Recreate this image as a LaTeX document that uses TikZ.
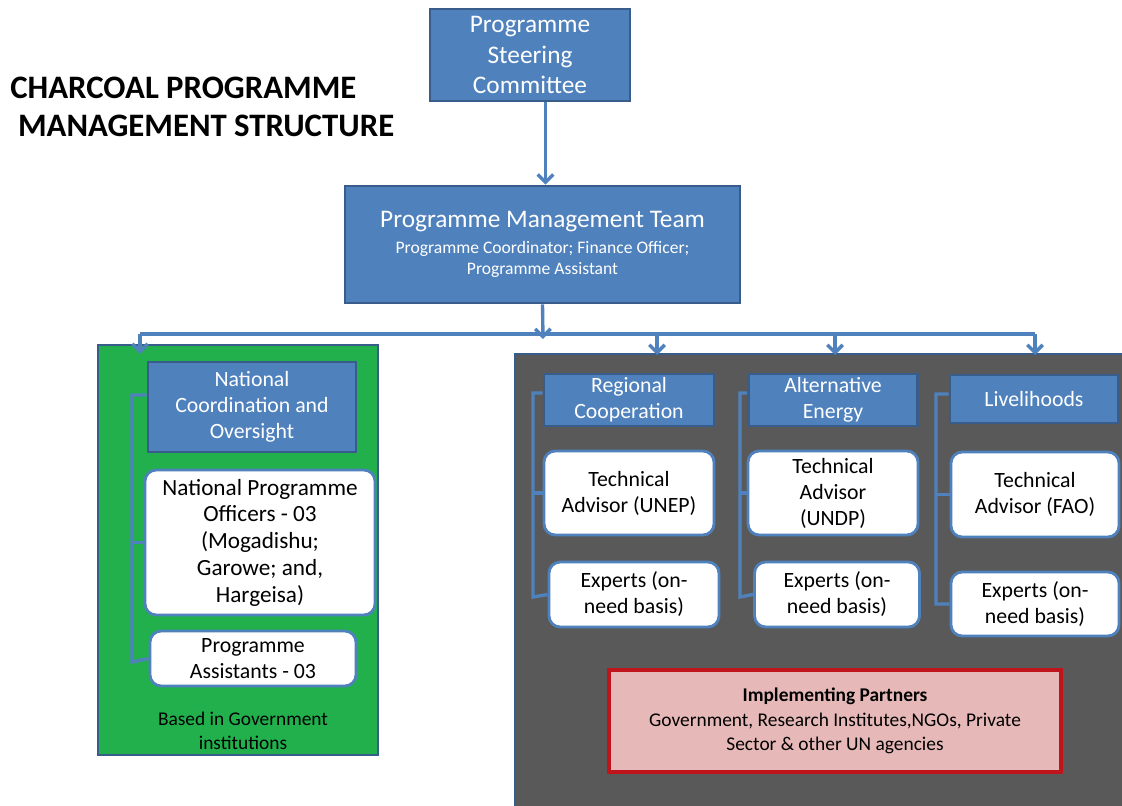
\documentclass[tikz,border=0pt]{standalone}
\usepackage{fontspec}
\setmainfont{Carlito}
\usepackage{tikz}
\usetikzlibrary{
    positioning,   % Relative positioning
    arrows.meta    % Modern arrow tips
}
\definecolor{boxblue}{HTML}{4F81BD}
\definecolor{edgeblue}{HTML}{385D8A}
\definecolor{govgreen}{RGB}{34,176,76}
\definecolor{paneldark}{HTML}{595959}
\definecolor{partnerpink}{HTML}{E6B9B8}
\definecolor{partnerred}{HTML}{C0141C}

\begin{document}
\begin{tikzpicture}[x=0.025cm, y=-0.025cm,
    headbox/.style={draw=edgeblue, line width=2pt, fill=boxblue, text=white,
        align=center, inner sep=0pt},
    staffbox/.style={draw=boxblue, line width=2pt, fill=white, text=black,
        rounded corners=8pt, align=center, inner sep=0pt},
    panel/.style={draw=edgeblue, line width=2pt},
    link/.style={draw=boxblue, line width=2.4pt},
    flow/.style={link, -{Straight Barb[length=5.5pt,width=11pt]}},
    big/.style={font=\fontsize{18}{22}\selectfont},
    mid/.style={font=\fontsize{15.5}{18.5}\selectfont},
    small/.style={font=\fontsize{13.8}{17.5}\selectfont}
]
    \clip (0,0) rectangle (1122,806);
    \fill[white] (0,0) rectangle (1122,806);

    % Title
    \node[anchor=north west, align=left, inner sep=0pt,
        font=\fontsize{23.3}{27}\bfseries\selectfont] (title) at (10,77)
        {CHARCOAL PROGRAMME\\\hspace*{5.5pt}MANAGEMENT STRUCTURE};

    % Top of the structure
    \node[headbox, big, minimum width=5cm, minimum height=2.3cm] (psc) at (530,55)
        {Programme\\Steering\\Committee};
    \node[headbox, font=\fontsize{12.5}{15}\selectfont, minimum width=9.875cm,
        minimum height=2.925cm] (pmt) at (542.5,244.5)
        {\fontsize{18}{24}\selectfont Programme Management Team\\[3pt]
         Programme Coordinator; Finance Officer;\\
         Programme Assistant};
    \draw[flow] ([xshift=0.075cm]pmt.north |- psc.south) -- ([xshift=0.075cm]pmt.north);

    % Panels
    \draw[panel, fill=govgreen] (98,345) rectangle (378,755);
    \draw[panel, fill=paneldark] (515,354) rectangle (1140,830);

    % Distribution line
    \coordinate (busL) at (140,334);
    \coordinate (busR) at (1035,334);
    \draw[flow] (pmt.south) -- (543,339);
    \draw[link] (busL) -- (busR);
    \draw[flow] (busL) -- (140,354);
    \draw[flow] (657,334) -- (657,355);
    \draw[flow] (835,334) -- (835,355);
    \draw[flow] (busR) -- (1035,355);

    % National branch
    \node[headbox, mid, minimum width=5.2cm, minimum height=2.25cm] (nco) at (252,407)
        {National\\Coordination and\\Oversight};
    \node[staffbox, font=\fontsize{16.5}{19}\selectfont, minimum width=5.75cm,
        minimum height=3.625cm] (npo) at (260,542.5)
        {National Programme\\Officers - 03\\(Mogadishu;\\Garowe; and,\\Hargeisa)};
    \node[staffbox, mid, minimum width=5.15cm, minimum height=1.375cm] (pa) at (253,658.5)
        {Programme\\Assistants - 03};
    \node[small, align=center] (gov) at (243,731) {Based in Government\\institutions};
    \draw[link] ([yshift=0.3cm]nco.west) -- (132,395) -- (132,662) -- (pa.west);
    \draw[link] (npo.west) -- (132,542.5);

    % Regional cooperation
    \node[headbox, mid, minimum width=4.25cm, minimum height=1.3cm] (reg) at (629,400)
        {Regional\\Cooperation};
    \node[staffbox, mid, minimum width=4.25cm, minimum height=2.1cm] (regta) at (629,493)
        {Technical\\Advisor (UNEP)};
    \node[staffbox, mid, minimum width=4.25cm, minimum height=1.625cm] (regex) at (634,594.5)
        {Experts (on-\\need basis)};
    \draw[link] ([yshift=0.175cm]reg.west) -- (533,393) -- (533,597) -- (regex.west);
    \draw[link] (regta.west) -- (533,493);

    % Alternative energy
    \node[headbox, mid, minimum width=4.225cm, minimum height=1.3cm] (alt) at (833,400)
        {Alternative\\Energy};
    \node[staffbox, mid, minimum width=4.25cm, minimum height=2.1cm] (altta) at (833,493)
        {Technical\\Advisor\\(UNDP)};
    \node[staffbox, mid, minimum width=4.125cm, minimum height=1.625cm] (altex) at (837,594.5)
        {Experts (on-\\need basis)};
    \draw[link] ([yshift=0.175cm]alt.west) -- (740,393) -- (740,597) -- (altex.west);
    \draw[link] (altta.west) -- (740,493);

    % Livelihoods
    \node[headbox, mid, minimum width=4.2cm, minimum height=1.2cm] (liv) at (1034,399)
        {Livelihoods};
    \node[staffbox, mid, minimum width=4.2cm, minimum height=2.125cm] (livta) at (1035,494.5)
        {Technical\\Advisor (FAO)};
    \node[staffbox, mid, minimum width=4.2cm, minimum height=1.6cm] (livex) at (1035,604)
        {Experts (on-\\need basis)};
    \draw[link] ([yshift=0.125cm]liv.west) -- (936,394) -- (936,604) -- (livex.west);
    \draw[link] (livta.west) -- (936,494.5);

    % Partners
    \node[draw=partnerred, line width=2.6pt, fill=partnerpink, small, align=center,
        inner sep=0pt, minimum width=11.3cm, minimum height=2.55cm] (partners) at (835,721)
        {\textbf{Implementing Partners}\\
         Government, Research Institutes,NGOs, Private\\
         Sector \& other UN agencies};
\end{tikzpicture}
\end{document}
